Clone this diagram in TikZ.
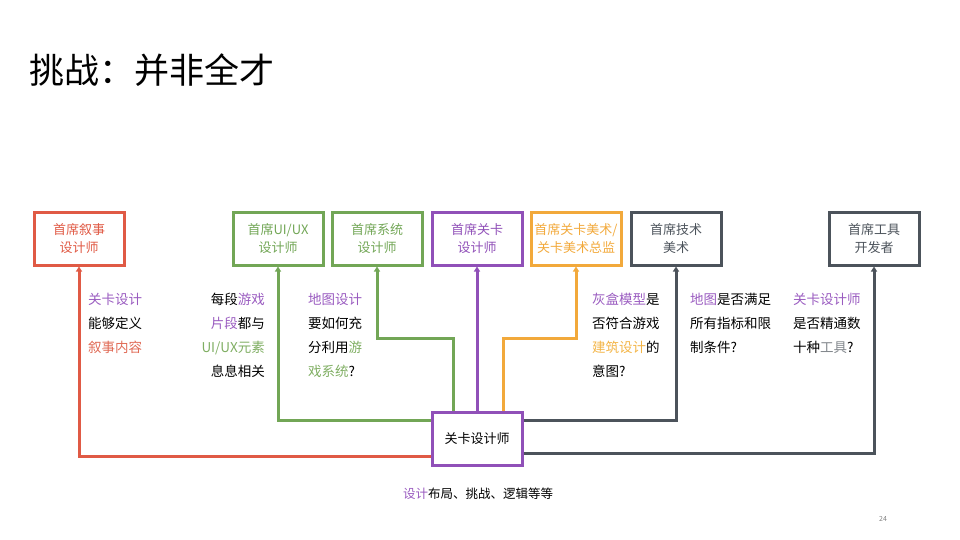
\documentclass[tikz,border=0pt]{standalone}
\usepackage{fontspec}
\setmainfont{Noto Sans CJK SC}
\usetikzlibrary{arrows.meta}
\definecolor{cred}{HTML}{E05A45}
\definecolor{cgreen}{HTML}{72A656}
\definecolor{cpurple}{HTML}{9050B8}
\definecolor{corange}{HTML}{F2A93B}
\definecolor{cgray}{HTML}{4C535B}
\definecolor{tpurple}{HTML}{9A5CC0}
\definecolor{tgreen}{HTML}{7FAE62}
\definecolor{tred}{HTML}{E06A55}
\definecolor{torange}{HTML}{F3B548}
\tikzset{
 box/.style={draw=#1, line width=3pt, text=#1, minimum width=90pt, minimum height=53pt, align=center, font=\fontsize{13}{18}\selectfont, inner sep=0pt},
 conn/.style={draw=#1, line width=3pt, -{Triangle[length=5pt,width=6pt]}},
 para/.style={font=\fontsize{13.5}{24}\selectfont, inner sep=0pt, text=black}
}
\begin{document}
\begin{tikzpicture}[x=1pt,y=-1pt]
\useasboundingbox (0,0) rectangle (960,539);
\node[anchor=west,font=\fontsize{35}{40}\selectfont] (title) at (26,70) {挑战：并非全才};
\node[box=cred] (nar) at (79,238.5) {首席叙事\\设计师};
\node[box=cgreen] (ui) at (278,238.5) {首席UI/UX\\设计师};
\node[box=cgreen] (sys) at (377,238.5) {首席系统\\设计师};
\node[box=cpurple] (lvl) at (477,238.5) {首席关卡\\设计师};
\node[box=corange] (art) at (576,238.5) {首席关卡美术/\\关卡美术总监};
\node[box=cgray] (tech) at (676,238.5) {首席技术\\美术};
\node[box=cgray] (tool) at (874,238.5) {首席工具\\开发者};
\node[box=cpurple,text=black] (ld) at (477,438.5) {关卡设计师};
\coordinate (c1) at (ld.west |- 0,456);
\coordinate (c2) at (ld.west |- 0,420);
\coordinate (c3) at (453,411);
\coordinate (c4) at (503,411);
\coordinate (c5) at (ld.east |- 0,420);
\coordinate (c6) at (ld.east |- 0,453);
\draw[conn=cred] (c1) -| (nar.south);
\draw[conn=cgreen] (c2) -| (ui.south);
\draw[conn=cgreen] (c3) |- (sys.south |- 0,338) -- (sys.south);
\draw[conn=cpurple] (ld.north) -- (lvl.south);
\draw[conn=corange] (c4) |- (art.south |- 0,338) -- (art.south);
\draw[conn=cgray] (c5) -| (tech.south);
\draw[conn=cgray] (c6) -| (tool.south);
\node[para,anchor=north west,align=left] (t1) at (88,293) {\textcolor{tpurple}{关卡设计}\\能够定义\\\textcolor{tred}{叙事内容}};
\node[para,anchor=north east,align=right] (t2) at (265,293) {每段\textcolor{tpurple}{游戏}\\\textcolor{tpurple}{片段}都与\\\textcolor{tgreen}{UI/UX元素}\\息息相关};
\node[para,anchor=north west,align=left] (t3) at (308,293) {\textcolor{tpurple}{地图设计}\\要如何充\\分利用\textcolor{tgreen}{游}\\\textcolor{tgreen}{戏系统}?};
\node[para,anchor=north west,align=left] (t4) at (592,293) {\textcolor{tpurple}{灰盒模型}是\\否符合游戏\\\textcolor{torange}{建筑设计}的\\意图?};
\node[para,anchor=north west,align=left] (t5) at (690,293) {\textcolor{tpurple}{地图}是否满足\\所有指标和限\\制条件?};
\node[para,anchor=north west,align=left] (t6) at (793,293) {\textcolor{tpurple}{关卡设计师}\\是否精通数\\十种\textcolor{cgray!70}{工具}?};
\node[font=\fontsize{12.5}{14}\selectfont] (bot) at (478,494) {\textcolor{tpurple}{设计}布局、挑战、逻辑等等};
\node[font=\fontsize{7}{8}\selectfont,text=gray] (pg) at (883,519) {24};
\end{tikzpicture}
\end{document}
